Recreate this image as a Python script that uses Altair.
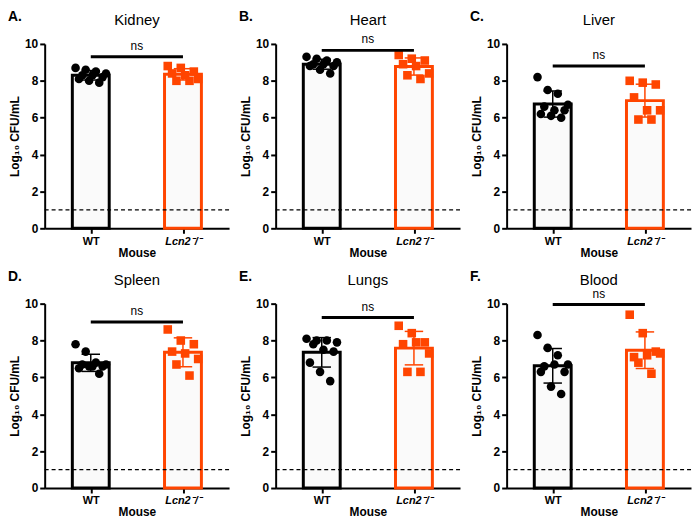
import altair as alt
import pandas as pd
import numpy as np

FONT = "Liberation Sans"
ORANGE = "#FF4500"

organs = ["Kidney", "Heart", "Liver", "Spleen", "Lungs", "Blood"]
letters = ["A.", "B.", "C.", "D.", "E.", "F."]
groups = ["WT", "Lcn2"]

wt_kidney = [8.7, 8.6, 8.5, 8.4, 8.3, 8.3, 8.2, 8.1, 8.0, 7.9]
ko_kidney = [8.8, 8.7, 8.5, 8.4, 8.3, 8.1, 8.0, 8.0]
wt_heart = [9.3, 9.2, 9.1, 9.0, 8.9, 8.9, 8.8, 8.8, 8.6, 8.4]
ko_heart = [9.4, 9.2, 9.1, 8.9, 8.8, 8.4, 8.3, 8.1]
wt_liver = [8.2, 7.5, 7.3, 6.7, 6.6, 6.4, 6.4, 6.2, 6.1, 6.0]
ko_liver = [8.0, 7.9, 7.8, 7.1, 6.4, 6.4, 5.9, 5.9]
wt_spleen = [7.8, 7.4, 6.8, 6.7, 6.7, 6.6, 6.6, 6.5, 6.6, 6.2]
ko_spleen = [8.6, 8.0, 7.8, 7.4, 7.3, 7.0, 6.7, 6.1]
wt_lungs = [8.1, 8.0, 8.0, 7.9, 7.8, 7.5, 7.4, 6.8, 6.3, 5.8]
ko_lungs = [8.8, 8.4, 7.9, 7.8, 7.9, 7.3, 6.3, 6.3]
wt_blood = [8.3, 7.6, 7.2, 6.7, 6.6, 6.7, 6.3, 6.3, 5.5, 5.1]
ko_blood = [9.4, 8.4, 7.4, 7.1, 7.2, 7.3, 6.8, 6.2]

sig_height = [9.3, 9.65, 8.8, 9.0, 9.25, 9.95]
sig_label = ["ns", "ns", "ns", "ns", "ns", "ns"]
detection_limit = [1.0, 1.0, 1.0, 1.0, 1.0, 1.0]
y_ticks = [0, 2, 4, 6, 8, 10]

wt_all = [wt_kidney, wt_heart, wt_liver, wt_spleen, wt_lungs, wt_blood]
ko_all = [ko_kidney, ko_heart, ko_liver, ko_spleen, ko_lungs, ko_blood]

W, H = 186, 186

xs = alt.Scale(domain=[0, 2], nice=False, zero=False)
ys = alt.Scale(domain=[0, 10], nice=False)
xaxis = alt.Axis(
    values=[0.5, 1.5],
    labelExpr="datum.value < 1 ? 'WT' : 'Lcn2⁻/⁻'",
    labelFontStyle={"condition": {"test": "datum.value > 1", "value": "italic"}, "value": "normal"},
    labelFontSize=11,
    title="Mouse",
    titlePadding=1,
)
yaxis = alt.Axis(values=y_ticks, title="Log₁₀ CFU/mL", titlePadding=3)
color = alt.Color("group:N", scale=alt.Scale(domain=groups, range=["black", ORANGE]), legend=None)


def X(f):
    return alt.X(f, type="quantitative", scale=xs, axis=xaxis)


def Y(f):
    return alt.Y(f, type="quantitative", scale=ys, axis=yaxis)


def panel(i):
    wt, ko = wt_all[i], ko_all[i]
    rows = []
    for g, vals in enumerate([wt, ko]):
        n = len(vals)
        for j, v in enumerate(vals):
            jit = ((j * 3) % n) / (n - 1) - 0.5
            rows.append({"group": groups[g], "pos": g + 0.5 + jit * 0.33, "value": v})
    pts = pd.DataFrame(rows)
    means = [float(np.mean(wt)), float(np.mean(ko))]
    sds = [float(np.std(wt, ddof=1)), float(np.std(ko, ddof=1))]
    summ = pd.DataFrame({
        "group": groups,
        "center": [0.5, 1.5],
        "mean": means,
        "lo": [m - s for m, s in zip(means, sds)],
        "hi": [m + s for m, s in zip(means, sds)],
    })
    summ["left"] = summ["center"] - 0.2
    summ["right"] = summ["center"] + 0.2
    summ["capl"] = summ["center"] - 0.1
    summ["capr"] = summ["center"] + 0.1
    sig = pd.DataFrame({"a": [0.5], "b": [1.5], "mid": [1.0], "y": [sig_height[i]], "t": [sig_label[i]]})
    lod = pd.DataFrame({"y": [detection_limit[i]]})
    lab = pd.DataFrame({"l": [letters[i]], "o": [organs[i]]})

    bars = alt.Chart(summ).mark_bar(fill="#fafafa", strokeWidth=3).encode(
        x=X("left"), x2="right", y=Y("mean"), y2=alt.datum(0), stroke=color
    )
    dots = alt.Chart(pts).mark_point(filled=True, opacity=1, size=75).encode(
        x=X("pos"), y=Y("value"), color=color,
        shape=alt.Shape("group:N", scale=alt.Scale(domain=groups, range=["circle", "square"]), legend=None),
    )
    err = alt.Chart(summ).mark_rule(strokeWidth=1.5).encode(
        x=X("center"), y=Y("lo"), y2="hi", color=color
    )
    cap_lo = alt.Chart(summ).mark_rule(strokeWidth=1.5).encode(
        x=X("capl"), x2="capr", y=Y("lo"), color=color
    )
    cap_hi = alt.Chart(summ).mark_rule(strokeWidth=1.5).encode(
        x=X("capl"), x2="capr", y=Y("hi"), color=color
    )
    dash = alt.Chart(lod).mark_rule(strokeDash=[4, 3], strokeWidth=1.2, color="black").encode(
        y=Y("y")
    )
    sline = alt.Chart(sig).mark_rule(strokeWidth=3, color="black").encode(
        x=X("a"), x2="b", y=Y("y")
    )
    stext = alt.Chart(sig).mark_text(dy=-11, fontSize=12, font=FONT, color="black").encode(
        x=X("mid"), y=Y("y"), text="t:N"
    )
    letter = alt.Chart(lab).mark_text(
        align="left", baseline="alphabetic", fontSize=14, fontWeight="bold", font=FONT, color="black"
    ).encode(x=alt.value(-37), y=alt.value(-23), text="l:N")
    title = alt.Chart(lab).mark_text(
        align="center", baseline="alphabetic", fontSize=15, font=FONT, color="black"
    ).encode(x=alt.value(W / 2), y=alt.value(-19), text="o:N")

    return alt.layer(bars, dots, err, cap_lo, cap_hi, dash, sline, stext, letter, title).properties(
        width=W, height=H,
    )


row1 = alt.hconcat(panel(0), panel(1), panel(2), spacing=9)
row2 = alt.hconcat(panel(3), panel(4), panel(5), spacing=9)
chart = alt.vconcat(row1, row2, spacing=12).properties(padding=0).configure_view(stroke=None).configure_axis(
    grid=False,
    domainColor="black", domainWidth=2,
    tickColor="black", tickWidth=2, tickSize=5,
    labelFont=FONT, labelFontWeight="bold", labelFontSize=12, labelColor="black",
    titleFont=FONT, titleFontWeight="bold", titleFontSize=12, titleColor="black",
)

chart.save("out.html", embed_options={"renderer": "svg", "actions": False})
